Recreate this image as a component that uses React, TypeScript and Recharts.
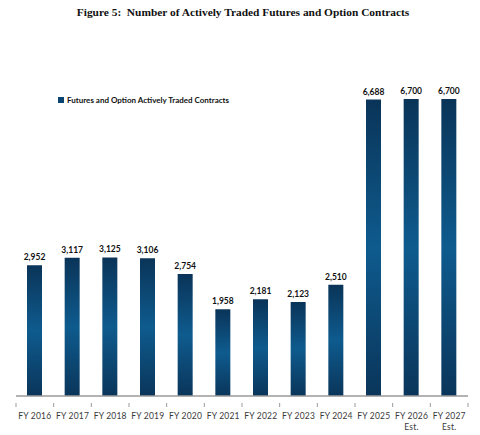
import { Bar, BarChart, LabelList, XAxis, YAxis } from "recharts";

const fiscalYears = [
  "FY 2016",
  "FY 2017",
  "FY 2018",
  "FY 2019",
  "FY 2020",
  "FY 2021",
  "FY 2022",
  "FY 2023",
  "FY 2024",
  "FY 2025",
  "FY 2026\nEst.",
  "FY 2027\nEst.",
];
const contracts = [2952, 3117, 3125, 3106, 2754, 1958, 2181, 2123, 2510, 6688, 6700, 6700];

const data = fiscalYears.map((fy, i) => ({ fy, contracts: contracts[i] }));

const W = 480;
const H = 435;
const M = { top: 99, right: 12, bottom: 9, left: 16 };
const STEP = (W - M.left - M.right) / fiscalYears.length;
const FONT = "Lato, 'Open Sans', sans-serif";

// категории с делениями на границах, а не по центру
function YearTick(props: any) {
  const { x, y, payload, index } = props;
  const lines = String(payload.value).split("\n");
  const last = index === fiscalYears.length - 1;
  return (
    <g>
      <line x1={x - STEP / 2} x2={x - STEP / 2} y1={y - 1} y2={y + 3} stroke="#9a9a9a" strokeWidth={1} />
      {last && <line x1={x + STEP / 2} x2={x + STEP / 2} y1={y - 1} y2={y + 3} stroke="#9a9a9a" strokeWidth={1} />}
      <text x={x} y={y + 15} textAnchor="middle" fontSize={8.5} fill="#3a3a3a" fontFamily={FONT} letterSpacing={0.2}>
        {lines.map((l, i) => (
          <tspan key={i} x={x} dy={i === 0 ? 0 : 11}>
            {l}
          </tspan>
        ))}
      </text>
    </g>
  );
}

export default function App() {
  return (
    <div style={{ position: "absolute", left: 0, top: 0, width: W, height: H, background: "#fff" }}>
      <div
        style={{
          position: "absolute",
          left: 0,
          top: 6,
          width: 486,
          textAlign: "center",
          fontFamily: "'Liberation Serif', serif",
          fontWeight: 700,
          fontSize: 11.4,
          color: "#111",
        }}
      >
        Figure 5:&nbsp; Number of Actively Traded Futures and Option Contracts
      </div>
      <div
        style={{
          position: "absolute",
          left: 58,
          top: 95,
          display: "flex",
          alignItems: "center",
          fontFamily: FONT,
          fontWeight: 700,
          fontSize: 8,
          color: "#111",
        }}
      >
        <span style={{ display: "inline-block", width: 6, height: 6, background: "#0b4470", marginRight: 3 }} />
        Futures and Option Actively Traded Contracts
      </div>
      <BarChart width={W} height={H} data={data} margin={M}>
        <defs>
          <linearGradient id="barFill" x1="0" y1="0" x2="0" y2="1">
            <stop offset="0" stopColor="#0a3458" />
            <stop offset="0.5" stopColor="#0e5b8e" />
            <stop offset="1" stopColor="#0a355a" />
          </linearGradient>
        </defs>
        <XAxis
          dataKey="fy"
          height={30}
          interval={0}
          tickLine={false}
          axisLine={{ stroke: "#9a9a9a", strokeWidth: 1.5 }}
          tick={<YearTick />}
        />
        <YAxis hide domain={[0, 6700]} />
        <Bar dataKey="contracts" barSize={15} fill="url(#barFill)" isAnimationActive={false}>
          <LabelList
            dataKey="contracts"
            position="top"
            offset={5}
            formatter={(v: any) => Number(v).toLocaleString("en-US")}
            style={{ fontSize: 8.5, fontWeight: 700, fill: "#111", fontFamily: FONT }}
          />
        </Bar>
      </BarChart>
    </div>
  );
}
